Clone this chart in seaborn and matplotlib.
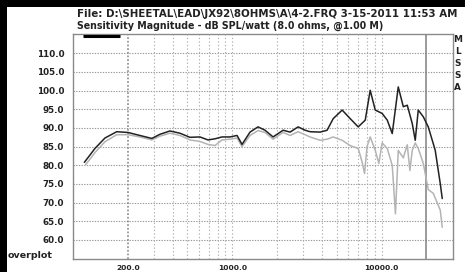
import matplotlib
matplotlib.use("Agg")
import matplotlib.pyplot as plt
import seaborn as sns
import pandas as pd
from matplotlib.patches import Rectangle
from matplotlib.ticker import FixedLocator, NullFormatter, FixedFormatter

title1 = r"File: D:\SHEETAL\EAD\JX92\8OHMS\A\4-2.FRQ 3-15-2011 11:53 AM"
title2 = "Sensitivity Magnitude - dB SPL/watt (8.0 ohms, @1.00 M)"
side_letters = ["M", "L", "S", "S", "A"]

freq_black = [102, 110, 120, 140, 168, 200, 240, 289, 327, 382, 446, 520, 607, 687,
              766, 853, 965, 1076, 1162, 1315, 1487, 1657, 1876, 2190, 2440, 2760,
              3075, 3320, 3880, 4320, 4745, 5450, 6170, 6980, 7780, 8400, 9080,
              10100, 10930, 11800, 12950, 14000, 14880, 16070, 16830, 17630, 19060,
              20570, 22230, 22910, 24760, 25530]
db_black = [80.8, 82.5, 84.5, 87.3, 89.0, 88.8, 88.0, 87.2, 88.3, 89.2, 88.6, 87.5,
            87.6, 86.8, 87.1, 87.6, 87.6, 88.0, 85.6, 88.9, 90.3, 89.4, 87.6, 89.4,
            88.9, 90.3, 89.4, 89.0, 88.9, 89.4, 92.5, 94.8, 92.5, 90.3, 92.1, 100.1,
            94.8, 93.9, 92.1, 88.5, 101.0, 95.7, 96.1, 91.2, 86.7, 94.8, 93.0, 90.3,
            85.8, 84.0, 75.1, 71.1]

freq_gray = [104, 112, 120, 140, 168, 200, 240, 289, 327, 382, 446, 520, 607, 687,
             766, 853, 965, 1076, 1162, 1315, 1487, 1657, 1876, 2190, 2440, 2760,
             3075, 3320, 3880, 4320, 4745, 5450, 6170, 6980, 7400, 7700, 8000, 8400,
             9080, 9600, 10100, 10930, 11800, 12400, 12950, 14000, 14880, 15500,
             16070, 16830, 17630, 19060, 20570, 22230, 24760, 25530]
db_gray = [80.2, 81.8, 83.4, 86.3, 88.2, 88.2, 87.6, 86.8, 87.8, 88.6, 88.0, 86.8,
           86.4, 85.6, 85.3, 86.8, 87.0, 87.3, 85.0, 88.0, 89.3, 88.8, 87.0, 88.8,
           88.0, 89.0, 88.2, 87.6, 86.7, 87.0, 87.6, 86.7, 85.3, 84.5, 81.0, 77.8,
           85.0, 87.6, 84.0, 80.5, 86.0, 84.5, 80.0, 67.0, 84.0, 82.0, 85.5, 78.6,
           84.0, 86.0, 84.5, 80.5, 73.5, 72.5, 68.0, 63.4]

y_ticks = [60, 65, 70, 75, 80, 85, 90, 95, 100, 105, 110]
x_major = [200, 1000, 10000]
x_major_labels = ["200.0", "1000.0", "10000.0"]
x_minor = [300, 400, 500, 600, 700, 800, 900, 2000, 3000, 4000, 5000, 6000,
           7000, 8000, 9000, 20000]

df = pd.concat([
    pd.DataFrame({"freq": freq_black, "db": db_black, "curve": "black"}),
    pd.DataFrame({"freq": freq_gray, "db": db_gray, "curve": "gray"}),
])

sns.set_style("white")
plt.rcParams["font.family"] = ["DejaVu Sans"]

W, H = 465, 272
fig = plt.figure(figsize=(W / 100, H / 100), dpi=100, facecolor="black")
fig.patches.append(Rectangle((7 / W, 0), 1, (H - 7) / H, transform=fig.transFigure,
                             facecolor="white", edgecolor="none", zorder=-1))

L, R, T, B = 73.3, 452.7, 34.3, 259.0
ax = fig.add_axes([L / W, 1 - B / H, (R - L) / W, (B - T) / H])
ax.set_facecolor("white")

# grid
for y in y_ticks:
    ax.axhline(y, color="#9a9a9a", lw=0.8, ls=(0, (1.2, 1.2)), zorder=1)
for x in x_minor[:-1] + [1000, 10000]:
    ax.axvline(x, color="#b0b0b0", lw=0.8, ls=(0, (1.2, 2.0)), zorder=1)
ax.axvline(200, color="#888888", lw=1.1, ls=(0, (1.2, 1.2)), zorder=1)
ax.axvline(20000, color="#808080", lw=1.1, zorder=1)

sns.lineplot(data=df, x="freq", y="db", hue="curve",
             palette={"black": "#222222", "gray": "#b4b4b4"},
             hue_order=["gray", "black"], legend=False, ax=ax, lw=1.1, zorder=3)

ax.set_xscale("log")
ax.set_xlim(86, 30000)
ax.set_ylim(54.9, 115.1)
ax.set_xlabel("")
ax.set_ylabel("")

ax.xaxis.set_major_locator(FixedLocator(x_major))
ax.xaxis.set_major_formatter(FixedFormatter(x_major_labels))
ax.xaxis.set_minor_locator(FixedLocator(x_minor))
ax.xaxis.set_minor_formatter(NullFormatter())
ax.set_yticks(y_ticks)
ax.set_yticklabels([f"{v:.1f}" for v in y_ticks])

ax.tick_params(axis="x", which="major", direction="out", length=3.5, width=0.8,
               color="#555555", pad=0.5, labelsize=5.4, labelcolor="#222222")
ax.tick_params(axis="x", which="minor", direction="out", length=3, width=0.8,
               color="#888888")
ax.tick_params(axis="y", direction="out", length=4, width=0.8, color="#888888",
               pad=2.5, labelsize=6.3, labelcolor="#222222")
for lab in ax.get_xticklabels() + ax.get_yticklabels():
    lab.set_fontweight("bold")

for s in ax.spines.values():
    s.set_visible(True)
    s.set_color("#8a8a8a")
    s.set_linewidth(1.0)

# black bar top-left inside frame
ax.plot([(83 - L) / (R - L), (120 - L) / (R - L)], [(B - 35.8) / (B - T)] * 2,
        transform=ax.transAxes, color="black", lw=2.2, clip_on=False, zorder=5,
        solid_capstyle="butt")

fig.text(77 / W, 1 - 14 / H, title1, fontsize=7.35, fontweight="bold",
         color="#222222", va="center", ha="left")
fig.text(77 / W, 1 - 26 / H, title2, fontsize=6.85, fontweight="bold",
         color="#222222", va="center", ha="left")
for i, ch in enumerate(side_letters):
    fig.text(457.5 / W, 1 - (40 + 12 * i) / H, ch, fontsize=6.4, fontweight="bold",
             color="#222222", va="center", ha="center")
fig.text(8 / W, 1 - 256 / H, "overplot", fontsize=6.8, fontweight="bold",
         color="#222222", va="center", ha="left")

fig.savefig("out.png", dpi=100, facecolor=fig.get_facecolor())
